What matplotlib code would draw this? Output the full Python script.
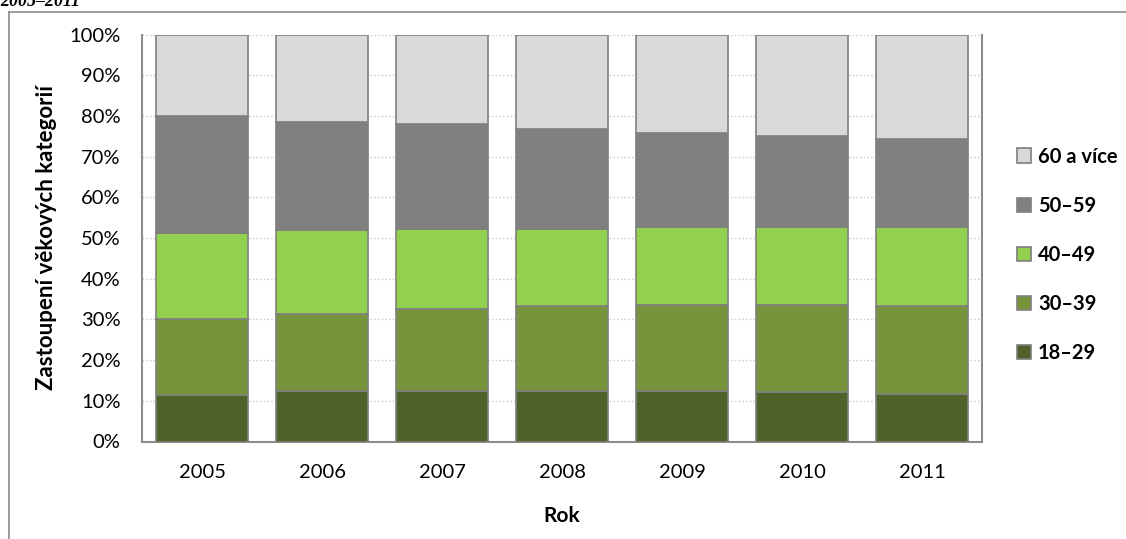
import numpy as np
import matplotlib.pyplot as plt

years = ['2005', '2006', '2007', '2008', '2009', '2010', '2011']
groups = ['18–29', '30–39', '40–49', '50–59', '60 a více']
g18_29 = [11.4, 12.5, 12.5, 12.5, 12.5, 12.1, 11.7]
g30_39 = [18.6, 18.9, 20.1, 20.7, 21.1, 21.5, 21.5]
g40_49 = [21.2, 20.5, 19.7, 19.0, 19.0, 19.0, 19.4]
g50_59 = [28.8, 26.7, 25.6, 24.7, 23.2, 22.5, 21.8]
g60 = [20.0, 21.4, 22.1, 23.0, 24.2, 24.9, 25.6]
colors = ['#4F6228', '#77933C', '#92D050', '#808080', '#D9D9D9']

plt.rcParams['font.family'] = ['Lato', 'DejaVu Sans']

fig = plt.figure(figsize=(11.26, 5.39), dpi=100)
ax = fig.add_axes([142/1126, 1-441.5/539, 840/1126, 407/539])

x = np.arange(len(years))
bottom = np.zeros(len(years))
bars = []
for vals, col, lab in zip([g18_29, g30_39, g40_49, g50_59, g60], colors, groups):
    b = ax.bar(x, vals, 0.76, bottom=bottom, color=col, edgecolor='#7F7F7F',
               linewidth=1.2, label=lab, zorder=3)
    bars.append(b)
    bottom += np.array(vals)

ax.set_xlim(-0.5, 6.5)
ax.set_ylim(0, 100)
ax.set_yticks(np.arange(0, 101, 10))
ax.set_yticklabels([f'{v}%' for v in range(0, 101, 10)])
ax.set_xticks(x)
ax.set_xticklabels(years)
ax.tick_params(axis='both', length=0, labelsize=14.5, colors='black')
ax.tick_params(axis='y', pad=15.5)
ax.tick_params(axis='x', pad=16)
ax.grid(axis='y', color='#C8C8C8', linestyle=':', linewidth=1, zorder=0)
ax.spines['top'].set_visible(False)
for s in ['left', 'bottom', 'right']:
    ax.spines[s].set_color('#8C8C8C')
    ax.spines[s].set_linewidth(1.5)

ax.set_ylabel('Zastoupení věkových kategorií', fontsize=16, fontweight='bold', labelpad=9)
ax.set_xlabel('Rok', fontsize=15, fontweight='bold', labelpad=18)

handles = [b[0] for b in bars][::-1]
fig.legend(handles, groups[::-1], loc='center left', bbox_to_anchor=(1017/1126, 1-255/539),
           frameon=False, prop={'weight': 'bold', 'size': 14.5}, labelspacing=1.45,
           handlelength=0.7, handleheight=0.7, handletextpad=0.35,
           borderpad=0, borderaxespad=0)

# outer chart frame
fig.add_artist(plt.Line2D([9/1126, 9/1126], [0, 1-12/539], color='#8C8C8C', lw=1.2))
fig.add_artist(plt.Line2D([9/1126, 1], [1-12/539, 1-12/539], color='#8C8C8C', lw=1.2))

# cut-off caption at top
fig.text(0, 1-1/539, '2005–2011', family='Liberation Serif', fontsize=13,
         fontweight='bold', style='italic', va='center', ha='left')

fig.savefig('out.png', dpi=100)
